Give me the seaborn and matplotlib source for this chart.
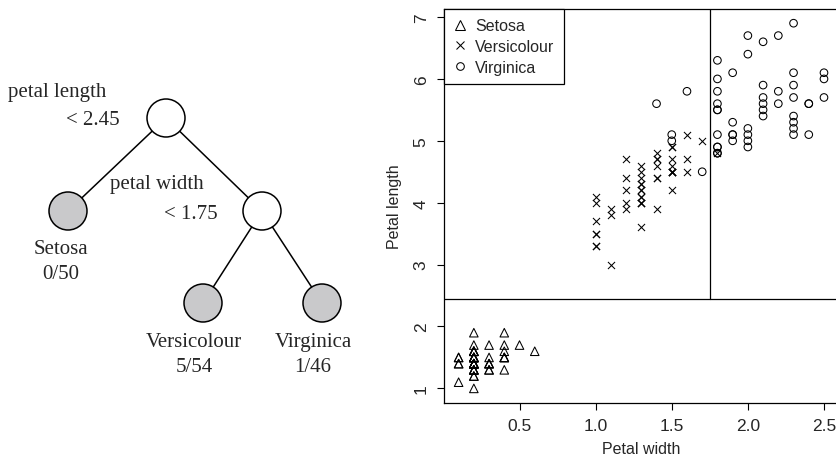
import matplotlib
matplotlib.use("Agg")
import matplotlib.pyplot as plt
from matplotlib.patches import Circle
from matplotlib.lines import Line2D
import seaborn as sns
import pandas as pd

# iris petal measurements (width, length) per species
setosa_width = [0.2, 0.2, 0.2, 0.2, 0.2, 0.4, 0.3, 0.2, 0.2, 0.1,
                0.2, 0.2, 0.1, 0.1, 0.2, 0.4, 0.4, 0.3, 0.3, 0.3,
                0.2, 0.4, 0.2, 0.5, 0.2, 0.2, 0.4, 0.2, 0.2, 0.2,
                0.2, 0.4, 0.1, 0.2, 0.2, 0.2, 0.2, 0.1, 0.2, 0.2,
                0.3, 0.3, 0.2, 0.6, 0.4, 0.3, 0.2, 0.2, 0.2, 0.2]
setosa_length = [1.4, 1.4, 1.3, 1.5, 1.4, 1.7, 1.4, 1.5, 1.4, 1.5,
                 1.5, 1.6, 1.4, 1.1, 1.2, 1.5, 1.3, 1.4, 1.7, 1.5,
                 1.7, 1.5, 1.0, 1.7, 1.9, 1.6, 1.6, 1.5, 1.4, 1.6,
                 1.6, 1.5, 1.5, 1.4, 1.5, 1.2, 1.3, 1.4, 1.3, 1.5,
                 1.3, 1.3, 1.3, 1.6, 1.9, 1.4, 1.6, 1.4, 1.5, 1.4]
versicolour_width = [1.4, 1.5, 1.5, 1.3, 1.5, 1.3, 1.6, 1.0, 1.3, 1.4,
                     1.0, 1.5, 1.0, 1.4, 1.3, 1.4, 1.5, 1.0, 1.5, 1.1,
                     1.8, 1.3, 1.5, 1.2, 1.3, 1.4, 1.4, 1.7, 1.5, 1.0,
                     1.1, 1.0, 1.2, 1.6, 1.5, 1.6, 1.5, 1.3, 1.3, 1.3,
                     1.2, 1.4, 1.2, 1.0, 1.3, 1.2, 1.3, 1.3, 1.1, 1.3]
versicolour_length = [4.7, 4.5, 4.9, 4.0, 4.6, 4.5, 4.7, 3.3, 4.6, 3.9,
                      3.5, 4.2, 4.0, 4.7, 3.6, 4.4, 4.5, 4.1, 4.5, 3.9,
                      4.8, 4.0, 4.9, 4.7, 4.3, 4.4, 4.8, 5.0, 4.5, 3.5,
                      3.8, 3.7, 3.9, 5.1, 4.5, 4.5, 4.7, 4.4, 4.1, 4.0,
                      4.4, 4.6, 4.0, 3.3, 4.2, 4.2, 4.2, 4.3, 3.0, 4.1]
virginica_width = [2.5, 1.9, 2.1, 1.8, 2.2, 2.1, 1.7, 1.8, 1.8, 2.5,
                   2.0, 1.9, 2.1, 2.0, 2.4, 2.3, 1.8, 2.2, 2.3, 1.5,
                   2.3, 2.0, 2.0, 1.8, 2.1, 1.8, 1.8, 1.8, 2.1, 1.6,
                   1.9, 2.0, 2.2, 1.5, 1.4, 2.3, 2.4, 1.8, 1.8, 2.1,
                   2.4, 2.3, 1.9, 2.3, 2.5, 2.3, 1.9, 2.0, 2.3, 1.8]
virginica_length = [6.0, 5.1, 5.9, 5.6, 5.8, 6.6, 4.5, 6.3, 5.8, 6.1,
                    5.1, 5.3, 5.5, 5.0, 5.1, 5.3, 5.5, 6.7, 6.9, 5.0,
                    5.7, 4.9, 6.7, 4.9, 5.7, 6.0, 4.8, 4.9, 5.6, 5.8,
                    6.1, 6.4, 5.6, 5.1, 5.6, 6.1, 5.6, 5.5, 4.8, 5.4,
                    5.6, 5.1, 5.1, 5.9, 5.7, 5.2, 5.0, 5.2, 5.4, 5.1]

species = ["Setosa", "Versicolour", "Virginica"]
split_length = 2.45
split_width = 1.75
x_ticks = [0.5, 1.0, 1.5, 2.0, 2.5]
y_ticks = [1, 2, 3, 4, 5, 6, 7]

# decision tree: error counts of the leaves
leaf_errors = ["0/50", "5/54", "1/46"]

sns.set_style("ticks")
plt.rcParams["font.family"] = ["Liberation Sans", "DejaVu Sans"]

W, H = 837, 456
fig = plt.figure(figsize=(W / 100, H / 100), dpi=100)

# ---------------- scatter panel ----------------
ax = fig.add_axes([444 / W, 1 - 404 / H, (838.6 - 444) / W, (404 - 9.6) / H])

frames = {
    "Setosa": pd.DataFrame({"w": setosa_width, "l": setosa_length}),
    "Versicolour": pd.DataFrame({"w": versicolour_width, "l": versicolour_length}),
    "Virginica": pd.DataFrame({"w": virginica_width, "l": virginica_length}),
}
styles = {
    "Setosa": dict(marker="^", s=38, facecolor="none", edgecolor="black", linewidth=0.75),
    "Versicolour": dict(marker="x", s=26, color="black", linewidth=0.75),
    "Virginica": dict(marker="o", s=30, facecolor="none", edgecolor="black", linewidth=0.75),
}
for sp in species:
    sns.scatterplot(data=frames[sp], x="w", y="l", ax=ax, legend=False, **styles[sp])

ax.set_xlim(0.004, 2.596)
ax.set_ylim(0.764, 7.136)
ax.axhline(split_length, color="black", lw=0.9)
ax.plot([split_width, split_width], [split_length, 7.136], color="black", lw=0.9)

ax.set_xticks(x_ticks)
ax.set_xticklabels([f"{t:.1f}" for t in x_ticks])
ax.set_yticks(y_ticks)
ax.set_yticklabels([str(t) for t in y_ticks], rotation=90, va="center")
ax.tick_params(axis="both", labelsize=12.5, length=5, width=0.8, color="black",
               direction="out", pad=6)
for side in ["top", "left", "bottom"]:
    ax.spines[side].set_visible(True)
    ax.spines[side].set_color("black")
    ax.spines[side].set_linewidth(0.9)
ax.spines["right"].set_visible(False)

ax.set_xlabel("Petal width", fontsize=11.5)
ax.set_ylabel("Petal length", fontsize=11.5)
ax.xaxis.set_label_coords(0.5, -0.096)
ax.yaxis.set_label_coords(-0.106, 0.5)

handles = [
    Line2D([], [], ls="none", marker="^", markersize=7, mfc="none", mec="black", mew=0.75),
    Line2D([], [], ls="none", marker="x", markersize=5.5, color="black", mew=0.75),
    Line2D([], [], ls="none", marker="o", markersize=5.5, mfc="none", mec="black", mew=0.75),
]
leg = ax.legend(handles, species, loc="upper left", borderaxespad=0, fancybox=False,
                framealpha=1, edgecolor="black", fontsize=11.5, handlelength=0.8,
                handletextpad=0.55, labelspacing=0.36, borderpad=0.6)
leg.get_frame().set_linewidth(0.9)

# ---------------- tree panel ----------------
axt = fig.add_axes([0, 0, 380 / W, 1])
axt.set_xlim(0, 380)
axt.set_ylim(H, 0)
axt.axis("off")

r = 19
nodes = {
    "root": (166, 119),
    "right": (262, 212),
    "Setosa": (68, 212),
    "Versicolour": (203, 304),
    "Virginica": (322, 304),
}
edges = [("root", "Setosa"), ("root", "right"), ("right", "Versicolour"), ("right", "Virginica")]
for a, b in edges:
    (x0, y0), (x1, y1) = nodes[a], nodes[b]
    axt.plot([x0, x1], [y0, y1], color="black", lw=1.1, zorder=1)
for name, (cx, cy) in nodes.items():
    fc = "white" if name in ("root", "right") else "#c9c9cb"
    axt.add_patch(Circle((cx, cy), r, facecolor=fc, edgecolor="black", lw=1.1, zorder=2))

serif = ["Liberation Serif", "DejaVu Serif"]
fs = 15
axt.text(8, 97, "petal length", family=serif, fontsize=fs, ha="left", va="baseline")
axt.text(120, 125, f"< {split_length}", family=serif, fontsize=fs, ha="right", va="baseline")
axt.text(110, 189, "petal width", family=serif, fontsize=fs, ha="left", va="baseline")
axt.text(218, 219, f"< {split_width}", family=serif, fontsize=fs, ha="right", va="baseline")
leaf_text = {"Setosa": (61, 254), "Versicolour": (194, 347), "Virginica": (313, 347)}
for sp, err in zip(species, leaf_errors):
    tx, ty = leaf_text[sp]
    axt.text(tx, ty, sp, family=serif, fontsize=fs, ha="center", va="baseline")
    axt.text(tx, ty + 25, err, family=serif, fontsize=fs, ha="center", va="baseline")

fig.savefig("out.png", dpi=100)
